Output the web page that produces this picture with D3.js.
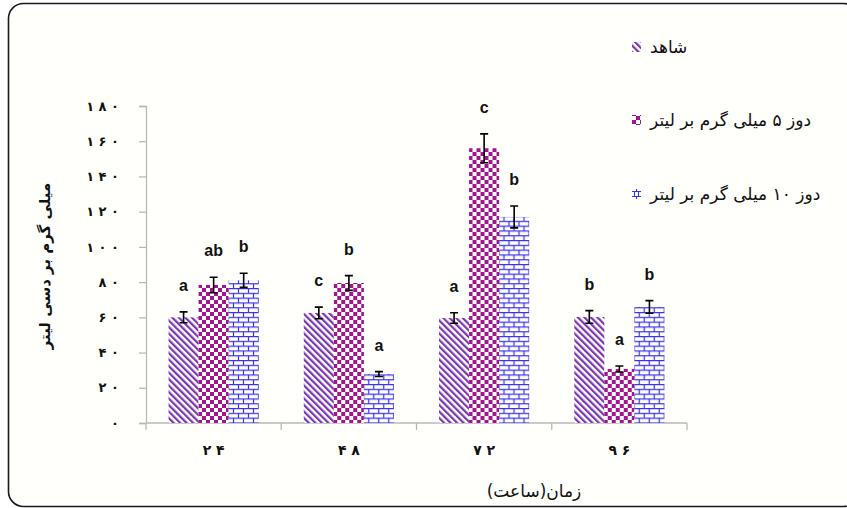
<!DOCTYPE html>
<html>
<head>
<meta charset="utf-8">
<script src="https://cdn.jsdelivr.net/npm/d3@7/dist/d3.min.js"></script>
<style>
  html, body { margin: 0; padding: 0; background: #ffffff; }
  svg { display: block; }
  .fa { font-family: "DejaVu Sans", sans-serif; }
</style>
</head>
<body>
<svg id="chart" width="847" height="508"></svg>
<script>
// Sampling time (hours) on the x axis
const categories = ["۲۴", "۴۸", "۷۲", "۹۶"];
const seriesNames = ["شاهد", "دوز ۵ میلی گرم بر لیتر", "دوز ۱۰ میلی گرم بر لیتر"];

// Mean values per treatment (mg/dl)
const controlValues = [60, 62.5, 59.6, 60.2];
const dose5Values   = [78.4, 79.5, 156, 30.7];
const dose10Values  = [81, 27.8, 117, 65.9];

// Standard errors
const controlErrors = [3.1, 3.3, 3.0, 3.6];
const dose5Errors   = [4.4, 4.2, 8.2, 1.7];
const dose10Errors  = [4.0, 1.4, 6.2, 3.6];

// Mean-separation letters
const controlLetters = ["a", "c", "a", "b"];
const dose5Letters   = ["ab", "b", "c", "a"];
const dose10Letters  = ["b", "a", "b", "b"];

const yTicks = [0, 20, 40, 60, 80, 100, 120, 140, 160, 180];
const yTickLabels = ["۰", "۲۰", "۴۰", "۶۰", "۸۰", "۱۰۰", "۱۲۰", "۱۴۰", "۱۶۰", "۱۸۰"];
const yTitle = "میلی گرم بر دسی لیتر";
const xTitle = "زمان(ساعت)";

const series = [
  { key: "control", name: seriesNames[0], values: controlValues, errors: controlErrors, letters: controlLetters, fill: "url(#hatch)" },
  { key: "dose5",   name: seriesNames[1], values: dose5Values,   errors: dose5Errors,   letters: dose5Letters,   fill: "url(#checker)" },
  { key: "dose10",  name: seriesNames[2], values: dose10Values,  errors: dose10Errors,  letters: dose10Letters,  fill: "url(#brick)" }
];

// Digits are spread apart with spaces
const spaced = s => s.split("").join(" ");

const svg = d3.select("#chart");
const defs = svg.append("defs");

// Diagonal purple hatching
const hatch = defs.append("pattern")
  .attr("id", "hatch").attr("patternUnits", "userSpaceOnUse")
  .attr("width", 4.6).attr("height", 4.6)
  .attr("patternTransform", "rotate(-45)");
hatch.append("rect").attr("width", 4.6).attr("height", 4.6).attr("fill", "#ffffff");
hatch.append("rect").attr("x", 0).attr("y", 0).attr("width", 2.2).attr("height", 4.6).attr("fill", "#7a35b0");

// Magenta checkerboard
const checker = defs.append("pattern")
  .attr("id", "checker").attr("patternUnits", "userSpaceOnUse")
  .attr("width", 8).attr("height", 8);
checker.append("rect").attr("width", 8).attr("height", 8).attr("fill", "#ffffff");
checker.append("rect").attr("x", 0).attr("y", 0).attr("width", 4).attr("height", 4).attr("fill", "#a3158f");
checker.append("rect").attr("x", 4).attr("y", 4).attr("width", 4).attr("height", 4).attr("fill", "#a3158f");

// Blue brick pattern
const brick = defs.append("pattern")
  .attr("id", "brick").attr("patternUnits", "userSpaceOnUse")
  .attr("width", 10).attr("height", 9.6);
brick.append("rect").attr("width", 10).attr("height", 9.6).attr("fill", "#ffffff");
brick.append("path")
  .attr("d", "M0,0.6H10M0,5.4H10M2.5,0.6V5.4M7.5,5.4V9.6")
  .attr("stroke", "#3a33e8").attr("stroke-width", 1.2).attr("fill", "none");

// Small brick pattern for the legend key
const brickKey = defs.append("pattern")
  .attr("id", "brickKey").attr("patternUnits", "userSpaceOnUse")
  .attr("width", 9).attr("height", 10);
brickKey.append("rect").attr("width", 9).attr("height", 10).attr("fill", "#ffffff");
brickKey.append("path")
  .attr("d", "M0,2.5H9M0,7.5H9M2.5,0V2.5M6.5,0V2.5M4.5,2.5V7.5M2.5,7.5V10M6.5,7.5V10")
  .attr("stroke", "#3a33e8").attr("stroke-width", 1.1).attr("fill", "none");

// Background panel with rounded frame
svg.append("rect")
  .attr("x", 8.5).attr("y", 3.5).attr("width", 850).attr("height", 503)
  .attr("rx", 15).attr("ry", 15)
  .attr("fill", "#fffffb").attr("stroke", "#1a1a1a").attr("stroke-width", 1.6);

// Scales
const x0 = d3.scaleBand().domain(categories).range([146, 687]).paddingInner(0).paddingOuter(0);
const x1 = d3.scaleBand().domain(series.map(s => s.key)).range([0, x0.bandwidth()])
  .paddingInner(0).paddingOuter(0.75);
const y = d3.scaleLinear().domain([0, 180]).range([423, 106]);

// Y axis
const yAxis = svg.append("g").attr("transform", "translate(146,0)")
  .call(d3.axisLeft(y).tickValues(yTicks).tickSize(7).tickPadding(20)
    .tickFormat((d, i) => spaced(yTickLabels[i])));
yAxis.select(".domain").attr("stroke", "#b8b8b8").attr("stroke-width", 1.3);
yAxis.selectAll(".tick line").attr("stroke", "#b8b8b8").attr("stroke-width", 1.3);
yAxis.selectAll(".tick text")
  .attr("class", "fa").attr("fill", "#111")
  .style("font-size", "13px").style("font-weight", "bold");

// X axis with ticks between groups
const xAxisG = svg.append("g").attr("transform", "translate(0,423)");
xAxisG.append("line").attr("x1", 146).attr("x2", 687).attr("y1", 0).attr("y2", 0)
  .attr("stroke", "#b8b8b8").attr("stroke-width", 1.3);
const boundaries = categories.map(c => x0(c)).concat([x0(categories[categories.length - 1]) + x0.bandwidth()]);
xAxisG.selectAll("line.sep").data(boundaries).join("line")
  .attr("class", "sep").attr("x1", d => d).attr("x2", d => d).attr("y1", 0).attr("y2", 7)
  .attr("stroke", "#b8b8b8").attr("stroke-width", 1.3);
xAxisG.selectAll("text.cat").data(categories).join("text")
  .attr("class", "cat fa")
  .attr("x", d => x0(d) + x0.bandwidth() / 2).attr("y", 32)
  .attr("text-anchor", "middle").attr("fill", "#111")
  .style("font-size", "14px").style("font-weight", "bold")
  .text(d => spaced(d));

// Bars, error bars and letters
const groups = svg.append("g").selectAll("g").data(categories).join("g")
  .attr("transform", d => `translate(${x0(d)},0)`);

groups.each(function(cat, ci) {
  const g = d3.select(this);
  series.forEach(s => {
    const v = s.values[ci], e = s.errors[ci];
    const bx = x1(s.key), bw = x1.bandwidth(), cx = bx + bw / 2;
    g.append("rect")
      .attr("x", bx).attr("y", y(v)).attr("width", bw).attr("height", y(0) - y(v))
      .attr("fill", s.fill);
    g.append("path")
      .attr("d", `M${cx - 4},${y(v + e)}H${cx + 4}M${cx},${y(v + e)}V${y(v - e)}M${cx - 4},${y(v - e)}H${cx + 4}`)
      .attr("stroke", "#000").attr("stroke-width", 1.6).attr("fill", "none");
    g.append("text")
      .attr("x", cx).attr("y", y(v + e) - 21)
      .attr("text-anchor", "middle")
      .attr("font-family", "Liberation Sans, Arial, sans-serif")
      .attr("font-size", 16).attr("font-weight", "bold").attr("fill", "#111")
      .text(s.letters[ci]);
  });
});

// Axis titles
svg.append("text")
  .attr("class", "fa")
  .attr("transform", "translate(50,266) rotate(-90)")
  .attr("text-anchor", "middle").attr("fill", "#111")
  .style("font-size", "15px").style("font-weight", "bold")
  .text(yTitle);

svg.append("text")
  .attr("class", "fa")
  .attr("x", 534).attr("y", 497)
  .attr("text-anchor", "middle").attr("fill", "#111")
  .style("font-size", "17px")
  .text(xTitle);

// Legend
const legendRows = [47, 120, 194];
const legendFills = ["url(#hatch)", "url(#checker)", "url(#brickKey)"];
const legend = svg.append("g").selectAll("g").data(series).join("g")
  .attr("transform", (d, i) => `translate(632,${legendRows[i]})`);
legend.append("rect").attr("x", 0).attr("y", -5).attr("width", 9).attr("height", 10)
  .attr("fill", (d, i) => legendFills[i]);
legend.append("text")
  .attr("class", "fa")
  .attr("x", 18).attr("y", 6)
  .attr("text-anchor", "start").attr("fill", "#111")
  .style("font-size", "17px")
  .text(d => d.name);
</script>
</body>
</html>
